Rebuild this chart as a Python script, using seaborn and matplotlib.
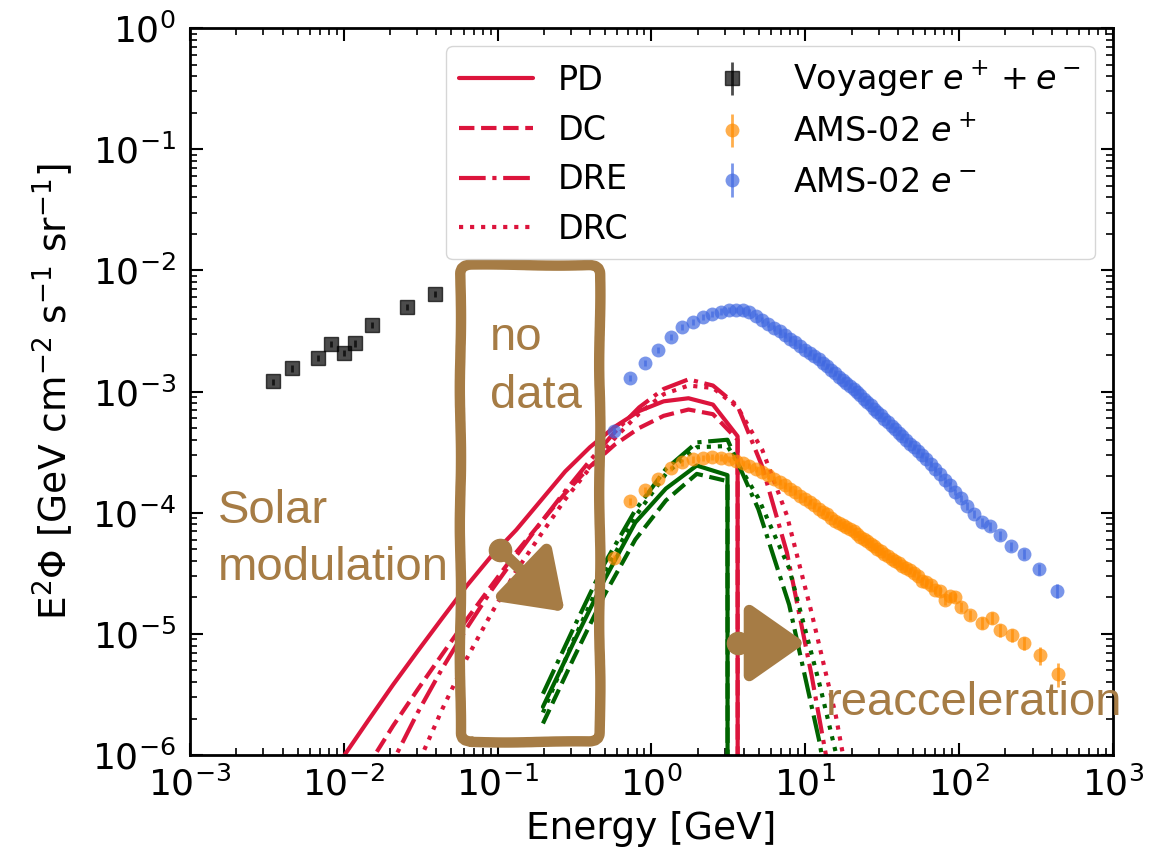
import matplotlib
matplotlib.use("Agg")
import matplotlib.pyplot as plt
import seaborn as sns
from matplotlib.patches import FancyBboxPatch

# ---------------- measurements ----------------
# Voyager 1, e+ + e- (local interstellar)
voy_E = [3.45e-3, 4.6e-3, 6.8e-3, 8.3e-3, 1.0e-2, 1.18e-2, 1.52e-2, 2.58e-2, 3.92e-2]
voy_F = [1.21e-3, 1.55e-3, 1.88e-3, 2.48e-3, 2.07e-3, 2.50e-3, 3.55e-3, 4.99e-3, 6.39e-3]
voy_err = [7e-5, 9e-5, 1.1e-4, 1.5e-4, 1.2e-4, 1.5e-4, 2.1e-4, 3.0e-4, 3.8e-4]

# AMS-02 electrons
ams_em_E = [0.57, 0.73, 0.91, 1.11, 1.34, 1.59, 1.86, 2.15, 2.48, 2.82,
            3.18, 3.54, 3.92, 4.33, 4.77, 5.25, 5.75, 6.27, 6.82, 7.40,
            8.00, 8.63, 9.29, 9.97, 10.68, 11.42, 12.20, 13.00, 13.83, 14.70,
            15.60, 16.53, 17.49, 18.49, 19.52, 20.59, 21.69, 22.84, 24.02, 25.26,
            26.58, 27.97, 29.45, 31.02, 32.68, 34.45, 36.34, 38.35, 40.50, 42.81,
            45.29, 47.95, 50.83, 53.96, 57.36, 61.08, 65.16, 69.68, 74.71, 80.37,
            86.78, 94.14, 102.7, 112.9, 125.3, 140.5, 159.4, 183.8, 217.5, 263.6,
            330.0, 435.0]
ams_em_F = [4.7e-4, 1.30e-3, 1.72e-3, 2.20e-3, 2.82e-3, 3.41e-3, 3.75e-3, 4.14e-3, 4.37e-3, 4.57e-3,
            4.69e-3, 4.73e-3, 4.68e-3, 4.49e-3, 4.19e-3, 3.90e-3, 3.61e-3, 3.36e-3, 3.13e-3, 2.92e-3,
            2.73e-3, 2.54e-3, 2.37e-3, 2.22e-3, 2.08e-3, 1.95e-3, 1.84e-3, 1.73e-3, 1.62e-3, 1.51e-3,
            1.42e-3, 1.33e-3, 1.25e-3, 1.18e-3, 1.11e-3, 1.05e-3, 9.9e-4, 9.3e-4, 8.7e-4, 8.2e-4,
            7.7e-4, 7.2e-4, 6.8e-4, 6.35e-4, 5.96e-4, 5.58e-4, 5.22e-4, 4.89e-4, 4.58e-4, 4.27e-4,
            3.99e-4, 3.72e-4, 3.47e-4, 3.23e-4, 2.99e-4, 2.77e-4, 2.54e-4, 2.30e-4, 2.08e-4, 1.87e-4,
            1.68e-4, 1.49e-4, 1.31e-4, 1.14e-4, 9.8e-5, 8.3e-5, 7.7e-5, 6.5e-5, 5.3e-5, 4.6e-5,
            3.4e-5, 2.26e-5]
ams_em_rel = [0.06, 0.06, 0.06, 0.06, 0.06, 0.06, 0.06, 0.06, 0.06, 0.06,
              0.06, 0.06, 0.06, 0.06, 0.06, 0.06, 0.06, 0.06, 0.06, 0.06,
              0.06, 0.06, 0.06, 0.06, 0.06, 0.06, 0.06, 0.06, 0.06, 0.06,
              0.06, 0.06, 0.06, 0.06, 0.06, 0.06, 0.06, 0.06, 0.06, 0.06,
              0.06, 0.06, 0.06, 0.06, 0.06, 0.06, 0.06, 0.06, 0.06, 0.06,
              0.06, 0.06, 0.06, 0.06, 0.06, 0.06, 0.06, 0.06, 0.06, 0.06,
              0.06, 0.06, 0.07, 0.07, 0.07, 0.08, 0.08, 0.08, 0.09, 0.10,
              0.10, 0.13]

# AMS-02 positrons
ams_ep_E = [0.57, 0.73, 0.91, 1.11, 1.34, 1.59, 1.86, 2.15, 2.48, 2.82,
            3.18, 3.54, 3.92, 4.33, 4.77, 5.25, 5.75, 6.27, 6.82, 7.40,
            8.00, 8.63, 9.29, 9.97, 10.68, 11.42, 12.20, 13.00, 13.83, 14.70,
            15.60, 16.53, 17.49, 18.49, 19.52, 20.59, 21.69, 22.84, 24.02, 25.26,
            26.58, 27.97, 29.45, 31.02, 32.68, 34.45, 36.34, 38.35, 40.50, 42.81,
            45.29, 47.95, 50.83, 53.96, 57.36, 61.08, 65.16, 69.68, 74.71, 80.37,
            86.78, 94.14, 102.7, 118.0, 141.0, 163.0, 185.0, 220.0, 265.0, 333.0,
            436.0]
ams_ep_F = [4.2e-5, 1.24e-4, 1.55e-4, 1.89e-4, 2.34e-4, 2.60e-4, 2.76e-4, 2.84e-4, 2.88e-4, 2.85e-4,
            2.79e-4, 2.69e-4, 2.57e-4, 2.43e-4, 2.30e-4, 2.16e-4, 2.03e-4, 1.91e-4, 1.79e-4, 1.68e-4,
            1.57e-4, 1.48e-4, 1.38e-4, 1.30e-4, 1.22e-4, 1.15e-4, 1.08e-4, 1.02e-4, 9.7e-5, 9.1e-5,
            8.6e-5, 8.2e-5, 7.9e-5, 7.6e-5, 7.3e-5, 7.0e-5, 6.7e-5, 6.35e-5, 6.07e-5, 5.8e-5,
            5.52e-5, 5.26e-5, 5.01e-5, 4.79e-5, 4.57e-5, 4.36e-5, 4.15e-5, 3.97e-5, 3.81e-5, 3.65e-5,
            3.50e-5, 3.34e-5, 3.18e-5, 3.03e-5, 2.75e-5, 2.66e-5, 2.51e-5, 2.31e-5, 2.24e-5, 1.91e-5,
            2.04e-5, 2.0e-5, 1.68e-5, 1.44e-5, 1.23e-5, 1.36e-5, 1.08e-5, 9.8e-6, 8.4e-6, 6.7e-6,
            4.7e-6]
ams_ep_rel = [0.06, 0.06, 0.06, 0.06, 0.06, 0.06, 0.06, 0.06, 0.06, 0.06,
              0.06, 0.06, 0.06, 0.06, 0.06, 0.06, 0.06, 0.06, 0.06, 0.06,
              0.06, 0.06, 0.06, 0.06, 0.06, 0.06, 0.06, 0.06, 0.06, 0.06,
              0.06, 0.06, 0.06, 0.06, 0.06, 0.06, 0.06, 0.06, 0.06, 0.06,
              0.07, 0.07, 0.07, 0.07, 0.07, 0.07, 0.07, 0.07, 0.07, 0.07,
              0.07, 0.07, 0.08, 0.08, 0.08, 0.08, 0.08, 0.08, 0.09, 0.09,
              0.09, 0.09, 0.10, 0.10, 0.11, 0.11, 0.12, 0.12, 0.13, 0.17,
              0.22]

# ---------------- propagation models ----------------
# electrons
E_ele = [0.0069, 0.0100, 0.0145, 0.0209, 0.0302, 0.0437, 0.0631, 0.0912, 0.132, 0.191,
         0.275, 0.398, 0.575, 0.832, 1.20, 1.74, 2.51, 3.63, 5.25, 7.59,
         11.0, 15.8, 22.9]
ele_PD = [4.9e-7, 9.8e-7, 1.95e-6, 3.8e-6, 7.2e-6, 1.35e-5, 2.5e-5, 4.4e-5, 7.2e-5, 1.26e-4,
          2.19e-4, 3.47e-4, 5.1e-4, 6.9e-4, 8.3e-4, 8.8e-4, 7.8e-4, 4.27e-4, 0.0, 0.0,
          0.0, 0.0, 0.0]
ele_DC = [1.78e-7, 4.0e-7, 8.3e-7, 1.74e-6, 3.47e-6, 6.8e-6, 1.32e-5, 2.5e-5, 4.7e-5, 8.3e-5,
          1.45e-4, 2.4e-4, 3.63e-4, 5.0e-4, 6.3e-4, 7.1e-4, 6.5e-4, 4.0e-4, 0.0, 0.0,
          0.0, 0.0, 0.0]
ele_DRE = [5.0e-8, 1.41e-7, 3.6e-7, 8.9e-7, 2.24e-6, 5.2e-6, 1.12e-5, 2.29e-5, 4.4e-5, 8.3e-5,
           1.51e-4, 2.69e-4, 4.6e-4, 7.4e-4, 1.05e-3, 1.26e-3, 1.12e-3, 7.6e-4, 2.4e-4, 4.7e-5,
           4.5e-6, 3.5e-7, 1.6e-8]
ele_DRC = [1.26e-8, 3.5e-8, 1.0e-7, 2.8e-7, 8.3e-7, 2.4e-6, 6.3e-6, 1.48e-5, 3.3e-5, 6.6e-5,
           1.29e-4, 2.34e-4, 4.1e-4, 6.6e-4, 9.5e-4, 1.12e-3, 1.07e-3, 7.4e-4, 3.3e-4, 9.5e-5,
           1.48e-5, 2.1e-6, 1.6e-7]

# positrons
E_pos = [0.197, 0.312, 0.495, 0.785, 1.24, 1.97, 3.12, 4.95, 7.85, 12.4, 19.7]
pos_PD = [2.5e-6, 8.5e-6, 2.8e-5, 8.3e-5, 1.58e-4, 2.45e-4, 2.04e-4, 0.0, 0.0, 0.0, 0.0]
pos_DC = [1.82e-6, 6.3e-6, 2.1e-5, 6.0e-5, 1.26e-4, 2.09e-4, 1.82e-4, 0.0, 0.0, 0.0, 0.0]
pos_DRE = [3.2e-6, 1.12e-5, 3.8e-5, 1.05e-4, 2.29e-4, 3.8e-4, 4.0e-4, 1.07e-4, 1.74e-5, 1.26e-6, 3.2e-8]
pos_DRC = [2.24e-6, 8.9e-6, 3.2e-5, 9.3e-5, 2.09e-4, 3.47e-4, 3.55e-4, 1.32e-4, 3.47e-5, 3.8e-6, 3.2e-7]

model_names = ["PD", "DC", "DRE", "DRC"]

# axis decades
x_decades = [1e-3, 1e-2, 1e-1, 1e0, 1e1, 1e2, 1e3]
y_decades = [1e-6, 1e-5, 1e-4, 1e-3, 1e-2, 1e-1, 1e0]

# ---------------- style ----------------
sns.set_style("ticks", {"xtick.direction": "in", "ytick.direction": "in"})
plt.rcParams["font.family"] = ["DejaVu Sans"]
plt.rcParams["mathtext.fontset"] = "dejavusans"
for key in ["text.color", "axes.labelcolor", "xtick.color", "ytick.color", "axes.edgecolor"]:
    plt.rcParams[key] = "black"

RED = "crimson"
GREEN = "darkgreen"
BROWN = "#a67c45"
linestyles = {"PD": "-", "DC": "--", "DRE": "-.", "DRC": ":"}

fig = plt.figure(figsize=(11.67, 8.6), dpi=100)
ax = fig.add_axes([0.1628, 0.1221, 0.7909, 0.8453])
ax.set_xscale("log")
ax.set_yscale("log")
ax.set_xlim(x_decades[0], x_decades[-1])
ax.set_ylim(y_decades[0], y_decades[-1])
ax.set_xticks(x_decades)
ax.set_yticks(y_decades)

# model curves
ele_models = dict(zip(model_names, [ele_PD, ele_DC, ele_DRE, ele_DRC]))
pos_models = dict(zip(model_names, [pos_PD, pos_DC, pos_DRE, pos_DRC]))
model_handles = []
for name in model_names:
    sns.lineplot(x=E_ele, y=ele_models[name], ax=ax, color=RED, linestyle=linestyles[name],
                 linewidth=3, estimator=None, sort=False, errorbar=None, legend=False)
    model_handles.append(ax.lines[-1])
for name in model_names:
    sns.lineplot(x=E_pos, y=pos_models[name], ax=ax, color=GREEN, linestyle=linestyles[name],
                 linewidth=3, estimator=None, sort=False, errorbar=None, legend=False)

# measured spectra
h_voy = ax.errorbar(voy_E, voy_F, yerr=voy_err, fmt="s", color="black", ms=10,
                    alpha=0.7, elinewidth=2, capsize=0, zorder=4)
ep_err = [f * r for f, r in zip(ams_ep_F, ams_ep_rel)]
h_ep = ax.errorbar(ams_ep_E, ams_ep_F, yerr=ep_err, fmt="o", color="darkorange", ms=10,
                   alpha=0.7, elinewidth=2, capsize=0, mew=0, zorder=4)
em_err = [f * r for f, r in zip(ams_em_F, ams_em_rel)]
h_em = ax.errorbar(ams_em_E, ams_em_F, yerr=em_err, fmt="o", color="royalblue", ms=10,
                   alpha=0.7, elinewidth=2, capsize=0, mew=0, zorder=4)

# axes cosmetics
for sp in ax.spines.values():
    sp.set_linewidth(2)
    sp.set_color("black")
ax.tick_params(which="both", direction="in", top=True, right=True, color="black",
               labelcolor="black")
ax.tick_params(which="major", length=9, width=1.5, labelsize=26)
ax.tick_params(which="minor", length=5, width=1.2)
ax.tick_params(axis="x", which="both", pad=8)
ax.tick_params(axis="y", which="both", pad=10)
ax.set_xlabel("Energy [GeV]", fontsize=27, labelpad=6)
ax.set_ylabel(r"E$^2\Phi$ [GeV cm$^{-2}$ s$^{-1}$ sr$^{-1}$]", fontsize=27, labelpad=12)

# hand-drawn style annotations
ann = dict(family="Liberation Sans", fontsize=34, color=BROWN, transform=ax.transAxes, zorder=9)
ax.text(0.030, 0.319, "Solar", **ann)
ax.text(0.030, 0.241, "modulation", **ann)
ax.text(0.325, 0.557, "no", **ann)
ax.text(0.325, 0.477, "data", **ann)
ax.text(0.689, 0.055, "reacceleration", **ann)

box = FancyBboxPatch((0.293, 0.018), 0.151, 0.656,
                     boxstyle="round,pad=0,rounding_size=0.012",
                     transform=ax.transAxes, fill=False, ec=BROWN, lw=7.5,
                     clip_on=False, zorder=9, joinstyle="round")
box.set_sketch_params(0.6, 150, 2)
ax.add_patch(box)

arrow_kw = dict(arrowstyle="-|>,head_length=0.6,head_width=0.42", mutation_scale=56,
                lw=8, color=BROWN, shrinkA=0, shrinkB=0, capstyle="round", joinstyle="round")
for tail, head in [((0.336, 0.282), (0.406, 0.197)), ((0.594, 0.154), (0.667, 0.154))]:
    ax.annotate("", xy=head, xytext=tail, xycoords="axes fraction",
                textcoords="axes fraction", arrowprops=arrow_kw, zorder=9)
    ax.plot([tail[0]], [tail[1]], "o", ms=16, color=BROWN, transform=ax.transAxes,
            zorder=9, clip_on=False)

# legend
handles = model_handles + [h_voy, h_ep, h_em]
labels = model_names + [r"Voyager $e^+ + e^-$", r"AMS-02 $e^+$", r"AMS-02 $e^-$"]
leg = ax.legend(handles, labels, ncol=2, loc="upper right", fontsize=24,
                handlelength=2.2, handletextpad=0.75, columnspacing=2.0,
                labelspacing=0.5, borderaxespad=0.55)
leg.set_zorder(10)
for txt in leg.get_texts():
    txt.set_color("black")

fig.savefig("out.png", dpi=100)
